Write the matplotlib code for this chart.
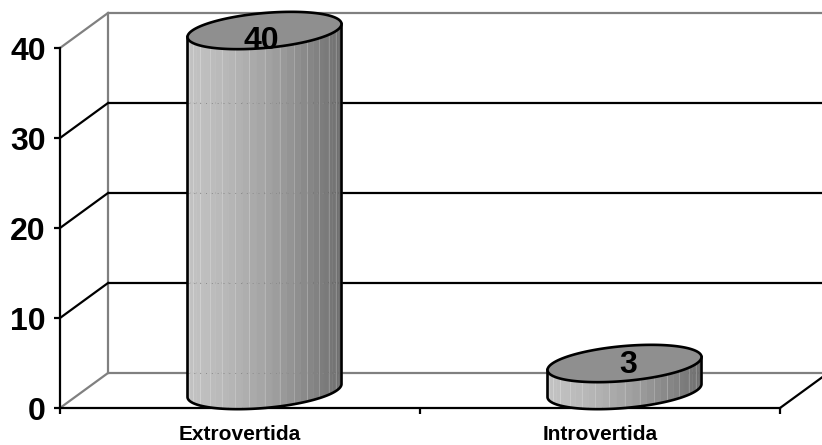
import numpy as np
import matplotlib
matplotlib.use("Agg")
import matplotlib.pyplot as plt

categories = ["Extrovertida", "Introvertida"]
values = [40, 3]
y_ticks = [0, 10, 20, 30, 40]

plt.rcParams["font.family"] = ["Liberation Sans", "DejaVu Sans"]
fig = plt.figure(figsize=(8.22, 4.45), dpi=100)
ax = fig.add_axes([0, 0, 1, 1])
ax.set_xlim(-240 / 360, 582 / 360)
ax.set_ylim(-37 / 9, 408 / 9)
ax.axis("off")

DX, DY = 48 / 360, 35 / 9   # 3D depth offset, in data units
x0, x1 = -0.5, 1.5
LW = 1.6
GREY = "#808080"

# back wall and side wall
ax.plot([x0 + DX, x0 + DX], [DY, 40 + DY], color=GREY, lw=LW, zorder=1)
for v in y_ticks:
    c = GREY if v in (0, 40) else "black"
    ax.plot([x0 + DX, x1 + DX], [v + DY, v + DY], color=c, lw=LW, zorder=1, solid_capstyle="butt")
    ax.plot([x0, x0 + DX], [v, v + DY], color=c, lw=LW, zorder=1)

# floor edge, front axes and ticks
ax.plot([x1, x1 + DX], [0, DY], color="black", lw=LW, zorder=1)
ax.plot([x0, x0], [0, 40], color="black", lw=LW, zorder=5)
ax.plot([x0, x1], [0, 0], color="black", lw=LW, zorder=2)
for v in y_ticks:
    ax.plot([x0 - 6 / 360, x0], [v, v], color="black", lw=LW, zorder=5, solid_capstyle="butt")
    ax.text(x0 - 14 / 360, v - 0.5, str(v), ha="right", va="center", fontsize=23, fontweight="bold")
for t in [x0, 0.5, x1]:
    ax.plot([t, t], [0, -6 / 9], color="black", lw=LW, zorder=5, solid_capstyle="butt")

# cylinders
A = 77 / 360
K = 6.5 / 9
B = 17.5 / 9
CX_OFF = 24.5 / 360
CY_OFF = 17.5 / 9


def shade(f):
    return str(0.76 - 0.33 * f ** 1.5)


for i, (cat, val) in enumerate(zip(categories, values)):
    cx = i + CX_OFF
    angles = np.linspace(np.pi, 0, 33)
    for j in range(32):
        t = np.linspace(angles[j], angles[j + 1], 6)
        xs = cx + A * np.cos(t)
        front = K * np.cos(t) - B * np.sin(t)
        yb = CY_OFF + front
        yt = val + CY_OFF + front
        f = (xs.mean() - (cx - A)) / (2 * A)
        ax.fill(np.r_[xs, xs[::-1]], np.r_[yb, yt[::-1]], color=shade(f), lw=0.35, zorder=3)
        if j % 2 == 1:
            ax.plot([xs[-1], xs[-1]], [yb[-1], yt[-1]], color="white", alpha=0.22, lw=0.7, zorder=3.2)
    # faint grid trace through the body
    for v in y_ticks[:-1]:
        if v + DY < val + CY_OFF - B:
            ax.plot([cx - A, cx + A], [v + DY, v + DY], color="#8a8a8a", lw=0.7, ls=(0, (1, 5)), zorder=3.5)
    t = np.linspace(np.pi, 0, 100)
    xs = cx + A * np.cos(t)
    front = K * np.cos(t) - B * np.sin(t)
    ax.plot(np.r_[cx - A, xs, cx + A], np.r_[val + CY_OFF - K, CY_OFF + front, val + CY_OFF + K],
            color="black", lw=1.9, zorder=4)
    t = np.linspace(0, 2 * np.pi, 200)
    ax.fill(cx + A * np.cos(t), val + CY_OFF + K * np.cos(t) + B * np.sin(t),
            facecolor="#8f8f8f", edgecolor="black", lw=1.9, zorder=4)
    lx = cx - 3 / 360 if val > 10 else cx + 4 / 360
    ly = val + CY_OFF - (1.15 if val > 10 else 0.12)
    ax.text(lx, ly, str(val), ha="center", va="center", fontsize=23, fontweight="bold", zorder=6)
    ax.text(i, -2.9, cat, ha="center", va="center", fontsize=15, fontweight="bold")

fig.savefig("out.png", dpi=100, facecolor="white")
